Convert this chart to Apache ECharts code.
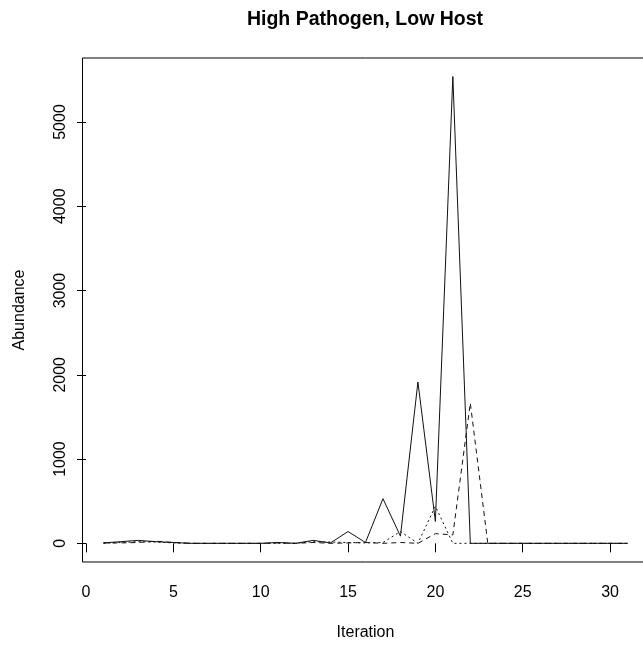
<!DOCTYPE html>
<html>
<head>
<meta charset="utf-8">
<script src="https://cdn.jsdelivr.net/npm/echarts@6/dist/echarts.min.js"></script>
<style>
html,body{margin:0;padding:0;background:#fff;overflow:hidden;width:643px;height:646px;}
#chart{width:670px;height:646px;}
</style>
</head>
<body>
<div id="chart"></div>
<script>
const titleText = 'High Pathogen, Low Host';
const xName = 'Iteration';
const yName = 'Abundance';
const iterations = [1,2,3,4,5,6,7,8,9,10,11,12,13,14,15,16,17,18,19,20,21,22,23,24,25,26,27,28,29,30,31];
const solidValues  = [5,20,35,20,10,0,0,0,0,0,10,0,35,5,140,10,530,85,1915,260,5540,0,0,0,0,0,0,0,0,0,0];
const dashedValues = [5,5,10,25,10,0,0,0,0,0,5,0,10,0,5,10,0,10,0,115,100,1665,0,0,0,0,0,0,0,0,0];
const dottedValues = [0,10,20,15,5,0,0,0,0,0,0,0,20,15,10,5,10,140,0,440,0,0,0,0,0,0,0,0,0,0,0];
const xTicks = [0,5,10,15,20,25,30];
const yTicks = [0,1000,2000,3000,4000,5000];

const font = '"Liberation Sans", Arial, sans-serif';
const pair = (vals) => iterations.map((x, i) => [x, vals[i]]);

const chart = echarts.init(document.getElementById('chart'), null, {renderer: 'canvas'});
const lineSeries = (name, vals, type) => ({
  name, type: 'line', data: pair(vals), showSymbol: false, symbol: 'none',
  lineStyle: {color: '#111', width: 1, type: type}, silent: true
});
chart.setOption({
  animation: false,
  backgroundColor: '#fff',
  grid: {left: 82.5, top: 58, width: 566, height: 505.5, show: true, borderColor: '#000', borderWidth: 1, containLabel: false},
  graphic: [{
    type: 'text', x: 365, y: 20,
    style: {text: titleText, fill: '#000', font: 'bold 19.5px ' + font, textAlign: 'center', textVerticalAlign: 'middle'}
  }],
  xAxis: {
    type: 'value', min: -0.2, max: 32.2,
    axisLine: {show: false},
    axisTick: {show: true, length: 9, lineStyle: {color: '#000'}, customValues: xTicks},
    axisLabel: {fontSize: 16, fontFamily: font, color: '#000', margin: 23, customValues: xTicks, formatter: v => String(v)},
    splitLine: {show: false},
    name: xName, nameLocation: 'middle', nameGap: 63,
    nameTextStyle: {fontSize: 16, fontFamily: font, color: '#000'}
  },
  yAxis: {
    type: 'value', min: -221.5, max: 5759.5,
    axisLine: {show: false},
    axisTick: {show: true, length: 9, lineStyle: {color: '#000'}, customValues: yTicks},
    axisLabel: {fontSize: 16, fontFamily: font, color: '#000', margin: 14, rotate: 90, customValues: yTicks, formatter: v => String(v)},
    splitLine: {show: false},
    name: yName, nameLocation: 'middle', nameGap: 55,
    nameTextStyle: {fontSize: 16, fontFamily: font, color: '#000'}
  },
  series: [
    lineSeries('solid', solidValues, 'solid'),
    lineSeries('dashed', dashedValues, [5, 4]),
    lineSeries('dotted', dottedValues, [2, 3])
  ]
});
</script>
</body>
</html>
